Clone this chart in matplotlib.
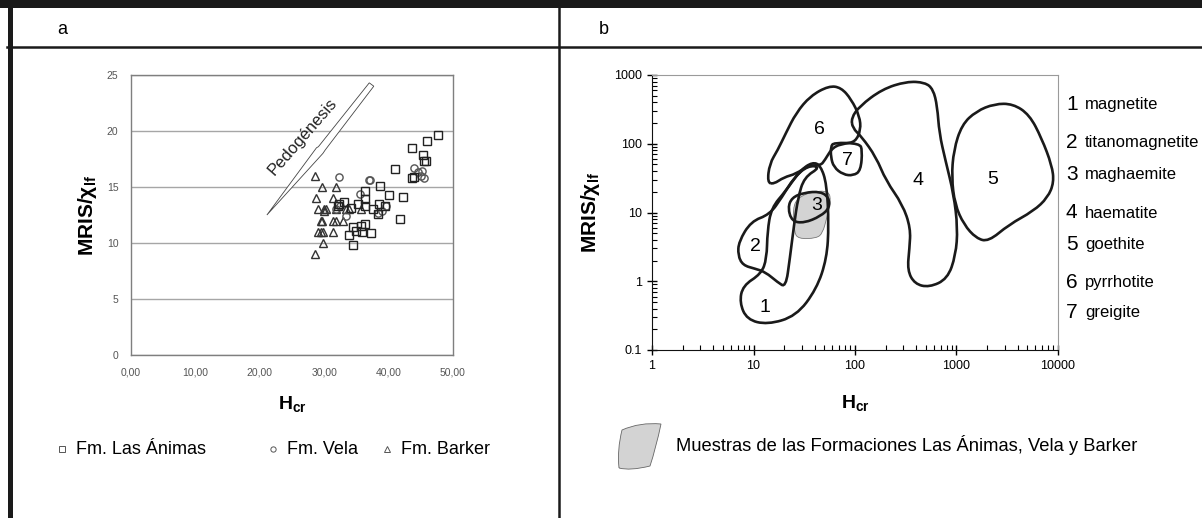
import numpy as np
import matplotlib
matplotlib.use("Agg")
import matplotlib.pyplot as plt
from matplotlib.path import Path
from matplotlib.patches import PathPatch, Rectangle, Polygon
from matplotlib.lines import Line2D

plt.rcParams['font.family'] = ['Liberation Sans', 'DejaVu Sans']
plt.rcParams['mathtext.fontset'] = 'custom'
plt.rcParams['mathtext.rm'] = 'Liberation Sans'
plt.rcParams['mathtext.bf'] = 'Liberation Sans:bold'
plt.rcParams['mathtext.it'] = 'Liberation Sans:italic'

# ---- panel a data (Hcr, MRIS/chi_lf) ----
animas_hcr = [47.6, 45.9, 43.7, 45.3, 45.5, 45.8, 41.0, 43.7, 43.9, 38.7, 36.3, 40.0, 42.2,
              36.4, 33.1, 32.3, 34.2, 38.5, 35.2, 36.4, 37.5, 39.4, 38.3, 41.7, 34.4,
              35.7, 36.4, 34.9, 35.8, 37.2, 33.9, 34.5, 32.1]
animas_ratio = [19.6, 19.1, 18.5, 17.9, 17.3, 17.3, 16.6, 15.8, 15.9, 15.1, 14.6, 14.3, 14.1,
                13.9, 13.7, 13.5, 13.1, 13.5, 13.5, 13.3, 13.0, 13.3, 12.6, 12.1, 11.4,
                11.5, 11.7, 11.1, 11.0, 10.9, 10.7, 9.8, 13.3]
vela_hcr = [32.3, 36.9, 37.1, 35.5, 31.9, 33.4, 38.3, 39.6, 44.0, 44.5, 45.0, 45.5, 45.2, 32.4, 39.0]
vela_ratio = [15.9, 15.6, 15.6, 14.4, 13.0, 12.4, 12.7, 13.3, 16.7, 16.3, 16.0, 15.8, 16.4, 13.3, 12.9]
barker_hcr = [28.6, 29.6, 31.9, 28.7, 31.3, 29.0, 30.0, 30.3, 31.8, 33.4, 33.9, 35.7, 29.5,
              29.7, 31.3, 31.8, 32.9, 29.0, 29.5, 29.8, 31.3, 29.8, 28.5, 30.0]
barker_ratio = [16, 15, 15, 14, 14, 13, 13, 13, 13, 13, 13, 13, 12,
                12, 12, 12, 12, 11, 11, 11, 11, 10, 9, 12.9]

a_xticks = [0, 10, 20, 30, 40, 50]
a_xticklabels = ['0,00', '10,00', '20,00', '30,00', '40,00', '50,00']
a_yticks = [0, 5, 10, 15, 20, 25]

# pedogenesis arrow outline (Hcr, ratio)
arrow_hcr = [37.0, 37.7, 30.15, 29.8, 21.1, 28.8, 29.1]
arrow_ratio = [24.3, 24.0, 18.3, 18.0, 12.5, 18.5, 18.6]

# ---- panel b data: mineral fields (Hcr, MRIS/chi_lf), log axes ----
magnetite_hcr = [13.7, 8.62, 7.29, 7.85, 11.9, 13.5, 13.7, 15.0, 20.8, 28.8, 38.1, 45.8, 52.7, 55.2, 52.7, 41.8, 26.3]
magnetite_ratio = [0.234, 0.277, 0.49, 0.863, 1.28, 2.14, 5.29, 11.7, 20.6, 40.8, 54.2, 48.4, 25.9, 6.65, 2.14, 0.77, 0.311]
titano_hcr = [7.03, 7.16, 9.46, 14.4, 19.0, 25.1, 34.7, 45.8, 31.6, 27.5, 25.1, 22.8, 20.8, 17.3, 13.1, 10.4, 7.85]
titano_ratio = [2.39, 3.77, 7.44, 9.33, 16.5, 32.5, 48.4, 45.7, 32.5, 16.5, 6.65, 2.14, 0.815, 0.966, 1.36, 1.52, 1.71]
maghaemite_hcr = [21.8, 23.9, 31.6, 45.8, 55.2, 56.2, 45.8, 31.6, 23.9]
maghaemite_ratio = [11.7, 16.5, 19.5, 20.2, 16.5, 11.7, 8.83, 7.03, 7.44]
haematite_hcr = [92.0, 111, 185, 322, 490, 589, 646, 677, 778, 938, 1028, 982, 815, 537, 388, 328, 344, 353, 294, 202, 161, 116, 94.6]
haematite_ratio = [237, 352, 621, 806, 780, 621, 352, 142, 57.4, 18.5, 5.93, 2.39, 1.08, 0.815, 0.914, 1.44, 3.0, 5.93, 13.1, 29.0, 64.3, 127, 169]
goethite_hcr = [938, 1128, 1563, 2371, 3597, 5224, 6902, 8710, 9120, 7925, 5728, 3281, 2064, 1563, 1183, 964, 895]
goethite_ratio = [80.6, 189, 297, 381, 381, 265, 120, 48.4, 27.4, 16.5, 10.5, 6.65, 3.77, 4.22, 6.65, 13.1, 32.5]
pyrrhotite_hcr = [13.7, 14.4, 17.3, 20.8, 26.3, 36.3, 55.2, 72.9, 92.0, 111, 114, 101, 80.0, 60.6, 50.3, 45.8, 34.7, 26.3, 19.9, 15.8]
pyrrhotite_ratio = [27.4, 51.2, 80.6, 142, 281, 495, 695, 657, 442, 251, 159, 107, 101, 90.3, 57.4, 48.4, 48.4, 36.5, 32.5, 25.9]
greigite_hcr = [57.8, 61.7, 111, 118, 114, 96.4, 76.4, 61.7, 57.8]
greigite_ratio = [90.3, 104, 101, 80.6, 40.8, 34.4, 35.6, 45.7, 64.3]
samples_hcr = [24.4, 27.5, 38.1, 55.2, 57.8, 52.7, 48.0, 41.8, 27.5, 25.1]
samples_ratio = [11.7, 16.5, 20.2, 20.6, 14.7, 8.34, 5.01, 4.22, 4.13, 5.29]

field_ids = ['1', '2', '3', '4', '5', '6', '7']
field_names = ['magnetite', 'titanomagnetite', 'maghaemite', 'haematite', 'goethite', 'pyrrhotite', 'greigite']
label_hcr = [13.1, 10.4, 41.8, 418, 2264, 44.6, 83.8]
label_ratio = [0.413, 3.18, 12.8, 29.0, 30.7, 159, 57.4]


def smooth_closed(xs, ys):
    # quadratic bezier through midpoints (geometric, since axes are log)
    xs = np.asarray(xs, float)
    ys = np.asarray(ys, float)
    n = len(xs)
    mx = np.sqrt(xs * np.roll(xs, -1))
    my = np.sqrt(ys * np.roll(ys, -1))
    verts = [(mx[-1], my[-1])]
    codes = [Path.MOVETO]
    for i in range(n):
        verts += [(xs[i], ys[i]), (mx[i], my[i])]
        codes += [Path.CURVE3, Path.CURVE3]
    return Path(verts, codes)


W, H = 1202, 518
fig = plt.figure(figsize=(W / 100, H / 100), dpi=100)


def fx(px):
    return px / W


def fy(py):
    return 1 - py / H


# ---- frame ----
fig.add_artist(Rectangle((0, fy(8)), 1, 8 / H, transform=fig.transFigure, color='#1a1a1a', lw=0))
fig.add_artist(Line2D([fx(7), 1], [fy(47), fy(47)], transform=fig.transFigure, color='#1a1a1a', lw=1.8))
fig.add_artist(Line2D([fx(9.5), fx(9.5)], [fy(8), 0], transform=fig.transFigure, color='#1a1a1a', lw=3.6))
fig.add_artist(Line2D([fx(558.5), fx(558.5)], [fy(8), 0], transform=fig.transFigure, color='#1a1a1a', lw=1.8))
fig.text(fx(57), fy(30), 'a', fontsize=13, va='center', ha='left')
fig.text(fx(599), fy(30), 'b', fontsize=13, va='center', ha='left')

# ---- panel a ----
axa = fig.add_axes([fx(131), fy(355), (453 - 131) / W, (355 - 75) / H])
axa.set_xlim(0, 50)
axa.set_ylim(0, 25)
axa.set_xticks(a_xticks)
axa.set_xticklabels(a_xticklabels)
axa.set_yticks(a_yticks)
axa.tick_params(length=0, labelsize=7.5, labelcolor='#555555', pad=9)
axa.yaxis.grid(True, color='#a6a6a6', lw=1)
axa.set_axisbelow(True)
for s in axa.spines.values():
    s.set_color('#7f7f7f')
    s.set_linewidth(1)

mk = dict(ls='none', mfc='none', mew=1.0)
axa.plot(barker_hcr, barker_ratio, marker='^', ms=5.5, mec='#333333', **mk)
axa.plot(vela_hcr, vela_ratio, marker='o', ms=5.2, mec='#555555', **mk)
axa.plot(animas_hcr, animas_ratio, marker='s', ms=5.3, mec='#222222', **mk)

axa.add_patch(Polygon(list(zip(arrow_hcr, arrow_ratio)), closed=True, fc='white', ec='#444444', lw=0.6))
axa.text(26.6, 19.5, 'Pedogénesis', rotation=49, fontsize=12, ha='center', va='center',
         rotation_mode='anchor', color='#222222')

axa.set_ylabel(r'MRIS/$\mathbf{\chi_{lf}}$', fontsize=15, fontweight='bold', labelpad=6)
axa.set_xlabel(r'H$_{\mathbf{cr}}$', fontsize=14, fontweight='bold', labelpad=12)

# legend a
leg_items = [('s', 'Fm. Las Ánimas', 62), ('o', 'Fm. Vela', 273), ('^', 'Fm. Barker', 387)]
for m, lab, x0 in leg_items:
    fig.add_artist(Line2D([fx(x0)], [fy(449)], transform=fig.transFigure, marker=m, ms=3.8,
                          mfc='none', mec='#555555', mew=0.7, ls='none'))
    fig.text(fx(x0 + 14), fy(449), lab, fontsize=13, va='center', ha='left')

# ---- panel b ----
axb = fig.add_axes([fx(652), fy(350), (1058 - 652) / W, (350 - 75) / H])
axb.set_xscale('log')
axb.set_yscale('log')
axb.set_xlim(1, 10000)
axb.set_ylim(0.1, 1000)
axb.set_xticks([1, 10, 100, 1000, 10000])
axb.set_xticklabels(['1', '10', '100', '1000', '10000'])
axb.set_yticks([0.1, 1, 10, 100, 1000])
axb.set_yticklabels(['0.1', '1', '10', '100', '1000'])
axb.tick_params(which='major', direction='inout', length=7, width=1, labelsize=9, pad=4)
axb.tick_params(which='minor', direction='in', length=3.5, width=0.8)
axb.tick_params(top=False, right=False, which='both')
axb.spines['left'].set_color('#111111')
axb.spines['bottom'].set_color('#111111')
for s in ('top', 'right'):
    axb.spines[s].set_color('#9a9a9a')
    axb.spines[s].set_linewidth(0.8)

axb.add_patch(PathPatch(smooth_closed(samples_hcr, samples_ratio), fc='#d3d3d3', ec='#777777', lw=0.6, zorder=1))
fields = [(magnetite_hcr, magnetite_ratio), (titano_hcr, titano_ratio), (maghaemite_hcr, maghaemite_ratio),
          (haematite_hcr, haematite_ratio), (goethite_hcr, goethite_ratio), (pyrrhotite_hcr, pyrrhotite_ratio),
          (greigite_hcr, greigite_ratio)]
for xs, ys in fields:
    axb.add_patch(PathPatch(smooth_closed(xs, ys), fc='none', ec='#1a1a1a', lw=1.9, zorder=2))
for lab, x, y in zip(field_ids, label_hcr, label_ratio):
    axb.text(x, y, lab, fontsize=14, ha='center', va='center', zorder=3)

axb.set_ylabel(r'MRIS/$\mathbf{\chi_{lf}}$', fontsize=15, fontweight='bold', labelpad=8)
axb.set_xlabel(r'H$_{\mathbf{cr}}$', fontsize=14, fontweight='bold', labelpad=15)

# mineral list on the right
list_y = [104, 143, 175, 213, 244, 283, 312]
for num, name, py in zip(field_ids, field_names, list_y):
    fig.text(fx(1066), fy(py), num, fontsize=15, va='center', ha='left')
    fig.text(fx(1085), fy(py), name, fontsize=12, va='center', ha='left')

# legend b: gray blob
blob = Path([(619, 468), (617, 450), (622, 430), (640, 422), (661, 424), (656, 448), (650, 466), (630, 471), (619, 468)],
            [Path.MOVETO, Path.CURVE3, Path.CURVE3, Path.CURVE3, Path.CURVE3, Path.CURVE3, Path.CURVE3, Path.CURVE3, Path.CURVE3])
blob_fig = Path([(fx(x), fy(y)) for x, y in blob.vertices], blob.codes)
fig.add_artist(PathPatch(blob_fig, transform=fig.transFigure, fc='#d3d3d3', ec='#666666', lw=0.6))
fig.text(fx(676), fy(445), 'Muestras de las Formaciones Las Ánimas, Vela y Barker', fontsize=13.2,
         va='center', ha='left')

fig.savefig('out.png', dpi=100)
